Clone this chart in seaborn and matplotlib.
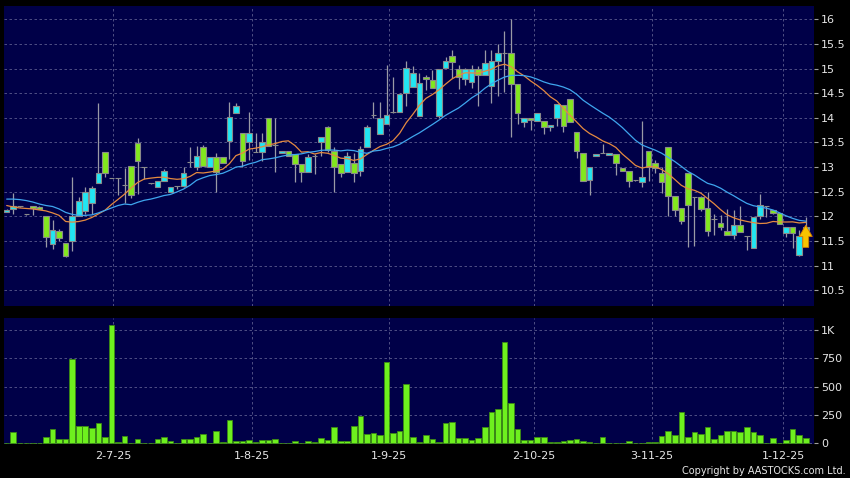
#!/usr/bin/env python3
import matplotlib
matplotlib.use("Agg")
import matplotlib.pyplot as plt
import numpy as np
import pandas as pd
import seaborn as sns

# Daily candles (one entry per trading day).
opens = [12.09, 12.14, 12.20, 12.04, 12.20, 12.19, 12.00, 11.43, 11.71, 11.45,
         11.50, 12.01, 12.10, 12.27, 12.68, 13.30, 12.77, 12.77, 12.64, 13.02,
         13.48, 13.01, 12.68, 12.59, 12.72, 12.50, 12.62, 12.62, 13.11, 13.00,
         13.41, 13.01, 13.20, 13.20, 13.53, 14.09, 13.70, 13.50, 13.30, 13.30,
         14.00, 13.45, 13.28, 13.33, 13.27, 13.07, 12.90, 13.23, 13.50, 13.81,
         13.33, 13.06, 12.91, 13.09, 12.93, 13.40, 14.05, 13.68, 13.88, 14.11,
         14.11, 14.50, 14.63, 14.04, 14.83, 14.76, 14.04, 15.02, 15.26, 15.00,
         14.78, 14.72, 15.00, 14.87, 14.65, 15.16, 15.31, 15.31, 14.68, 13.92,
         13.99, 13.93, 13.93, 13.82, 14.00, 14.26, 14.39, 13.72, 13.28, 12.74,
         13.23, 13.28, 13.25, 13.26, 12.99, 12.92, 12.74, 12.70, 13.32, 13.09,
         12.88, 13.40, 12.42, 12.17, 12.89, 12.40, 12.39, 12.17, 11.95, 11.87,
         11.71, 11.63, 11.83, 11.60, 11.36, 12.00, 12.20, 12.13, 12.06, 11.66,
         11.78, 11.22, 11.72]
highs = [12.15, 12.47, 12.22, 12.05, 12.22, 12.20, 12.00, 11.93, 11.74, 11.45,
         12.80, 12.40, 12.60, 12.62, 14.30, 13.30, 12.77, 12.77, 12.98, 13.02,
         13.59, 13.01, 12.68, 12.72, 12.97, 12.60, 12.62, 13.01, 13.40, 13.42,
         13.45, 13.20, 13.28, 13.20, 14.33, 14.30, 13.70, 14.12, 13.70, 13.70,
         14.00, 14.00, 13.33, 13.33, 13.27, 13.07, 13.26, 13.27, 13.61, 13.83,
         13.40, 13.06, 13.30, 13.28, 13.43, 13.85, 14.33, 14.33, 15.08, 14.83,
         14.50, 15.15, 15.05, 14.90, 14.87, 14.98, 14.99, 15.23, 15.37, 15.07,
         15.02, 15.07, 15.05, 15.37, 15.37, 15.50, 15.76, 16.00, 14.68, 14.00,
         13.99, 14.09, 13.93, 13.86, 14.28, 14.26, 14.39, 13.72, 13.28, 13.00,
         13.26, 13.47, 13.28, 13.26, 12.99, 12.92, 12.74, 13.94, 13.32, 13.15,
         13.00, 13.40, 12.42, 12.17, 12.89, 12.40, 12.42, 12.49, 12.05, 12.02,
         12.15, 12.12, 12.22, 11.60, 11.98, 12.45, 12.20, 12.13, 12.06, 11.78,
         11.78, 11.72, 11.98]
lows = [12.08, 12.05, 12.18, 12.03, 12.02, 12.14, 11.38, 11.33, 11.50, 11.18,
        11.30, 12.00, 12.05, 12.05, 12.68, 12.80, 12.77, 12.43, 12.27, 12.38,
        12.45, 12.76, 12.66, 12.59, 12.72, 12.50, 12.55, 12.60, 13.00, 12.95,
        13.03, 13.01, 12.50, 13.09, 13.17, 14.09, 13.00, 13.15, 13.30, 13.13,
        13.43, 12.91, 13.28, 13.23, 12.70, 12.70, 12.90, 12.86, 13.23, 13.30,
        12.50, 12.80, 12.91, 12.70, 12.82, 13.40, 14.00, 13.68, 13.87, 14.09,
        14.11, 14.25, 14.63, 14.04, 14.56, 14.60, 14.00, 15.02, 14.80, 14.58,
        14.66, 14.60, 14.24, 14.87, 14.30, 14.45, 14.52, 13.62, 13.88, 13.82,
        13.75, 13.93, 13.68, 13.74, 13.84, 13.72, 13.92, 13.18, 12.72, 12.43,
        13.23, 13.28, 13.25, 12.84, 12.93, 12.59, 12.72, 12.60, 12.72, 12.88,
        12.48, 12.01, 12.01, 11.85, 11.38, 11.40, 12.10, 11.61, 11.62, 11.72,
        11.63, 11.55, 11.68, 11.31, 11.36, 11.95, 11.98, 12.05, 11.85, 11.58,
        11.36, 11.20, 11.72]
closes = [12.13, 12.20, 12.20, 12.04, 12.16, 12.15, 11.59, 11.73, 11.57, 11.19,
          12.00, 12.32, 12.49, 12.57, 12.88, 12.88, 12.77, 12.77, 12.64, 12.44,
          13.12, 13.01, 12.68, 12.72, 12.92, 12.60, 12.62, 12.89, 13.11, 13.22,
          13.03, 13.20, 12.91, 13.09, 14.01, 14.25, 13.13, 13.70, 13.30, 13.50,
          13.43, 13.45, 13.33, 13.23, 13.07, 12.90, 13.21, 13.23, 13.61, 13.35,
          13.00, 12.88, 13.23, 12.88, 13.36, 13.81, 14.05, 14.00, 14.06, 14.11,
          14.49, 15.02, 14.92, 14.70, 14.78, 14.60, 14.99, 15.16, 15.14, 14.83,
          15.00, 14.99, 14.87, 15.11, 15.16, 15.31, 15.31, 14.68, 14.09, 14.00,
          13.96, 14.09, 13.82, 13.86, 14.28, 13.84, 13.92, 13.33, 12.72, 13.00,
          13.26, 13.28, 13.28, 13.09, 12.93, 12.71, 12.74, 12.79, 13.01, 12.99,
          12.69, 12.42, 12.12, 11.90, 12.23, 12.40, 12.15, 11.71, 11.95, 11.79,
          11.63, 11.83, 11.68, 11.60, 11.98, 12.23, 12.20, 12.07, 11.85, 11.78,
          11.66, 11.61, 11.79]
volumes = [0, 103, 0, 0, 3, 0, 56, 124, 38, 38,
           745, 154, 154, 139, 178, 59, 1047, 9, 68, 0,
           36, 3, 6, 38, 56, 21, 3, 36, 38, 56,
           80, 0, 109, 15, 204, 24, 18, 27, 9, 30,
           30, 41, 6, 0, 18, 3, 21, 9, 50, 30,
           145, 18, 18, 154, 245, 80, 89, 74, 716, 95,
           109, 524, 53, 15, 77, 35, 9, 180, 186, 47,
           47, 30, 44, 148, 281, 302, 899, 355, 127, 30,
           30, 56, 56, 15, 15, 18, 30, 35, 21, 15,
           0, 53, 0, 6, 0, 18, 0, 6, 9, 9,
           65, 106, 77, 274, 53, 100, 80, 142, 38, 74,
           106, 106, 100, 142, 100, 74, 6, 47, 6, 30,
           124, 71, 44]

# Moving average values at the left edge (history before the window).
ma10_head = [12.22, 12.19, 12.17, 12.16, 12.15, 12.13, 12.11, 12.07, 12.02]
ma20_head = [12.35, 12.35, 12.34, 12.32, 12.29, 12.25, 12.22, 12.20, 12.15,
             12.08, 12.04, 12.02, 12.02, 12.03, 12.07, 12.12, 12.17, 12.22, 12.25]

date_labels = ["2-7-25", "1-8-25", "1-9-25", "2-10-25", "3-11-25", "1-12-25"]
date_pos = [16.3, 37.4, 58.4, 80.5, 98.5, 118.6]
price_ticks = [10.5, 11, 11.5, 12, 12.5, 13, 13.5, 14, 14.5, 15, 15.5, 16]
vol_ticks = [0, 250, 500, 750, 1000]
vol_labels = ["0", "250", "500", "750", "1K"]

BG = "#000048"
UP = "#22E6F2"
DOWN = "#82E81E"
GRID = "#5C5C8E"
TXT = "#E6E6E6"

sns.set_style("dark", {
    "axes.facecolor": BG,
    "figure.facecolor": "black",
    "axes.edgecolor": BG,
    "grid.color": GRID,
})
plt.rcParams["font.family"] = ["DejaVu Sans"]

df = pd.DataFrame({"open": opens, "high": highs, "low": lows,
                   "close": closes, "volume": volumes})
df["idx"] = np.arange(len(df))
ma10 = df["close"].rolling(10).mean()
ma10.iloc[:len(ma10_head)] = ma10_head
ma20 = df["close"].rolling(20).mean()
ma20.iloc[:len(ma20_head)] = ma20_head
df["ma10"] = ma10
df["ma20"] = ma20

fig = plt.figure(figsize=(8.5, 4.78), dpi=100)
ax = fig.add_axes([4 / 850, 1 - 306 / 478, 810 / 850, 300 / 478])
axv = fig.add_axes([4 / 850, 1 - 444 / 478, 810 / 850, 126 / 478])

xlim = (-0.41, 123.26)

# Candles
up = df["close"] >= df["open"]
ax.vlines(df["idx"], df["low"], df["high"], color="#9A9AA6", linewidth=0.9, zorder=2)
body_h = (df["close"] - df["open"]).abs()
body_b = df[["open", "close"]].min(axis=1)
colors = [UP if u else DOWN for u in up]
ax.bar(df["idx"], body_h, bottom=body_b, width=0.85, color=colors,
       edgecolor="#8A8A8A", linewidth=0.8, zorder=3)

# Moving averages
sns.lineplot(data=df, x="idx", y="ma10", color="#E58A40", linewidth=0.9, ax=ax, zorder=4)
sns.lineplot(data=df, x="idx", y="ma20", color="#3FA6EE", linewidth=0.9, ax=ax, zorder=4)

# Last price arrow
lx = df["idx"].iloc[-1]
ly = df["close"].iloc[-1]
ax.fill([lx, lx + 1.0, lx + 0.45, lx + 0.45, lx - 0.45, lx - 0.45, lx - 1.0],
        [ly + 0.03, ly - 0.2, ly - 0.2, ly - 0.42, ly - 0.42, ly - 0.2, ly - 0.2],
        color="#F7C300", edgecolor="#D07A00", linewidth=0.6, zorder=5)

ax.set_xlim(*xlim)
ax.set_ylim(10.18, 16.27)
ax.set_yticks(price_ticks)
ax.set_yticklabels([f"{t:g}" for t in price_ticks])
ax.set_xticks(date_pos)
ax.set_xticklabels([])
ax.yaxis.tick_right()
ax.tick_params(axis="y", colors=TXT, labelsize=8, length=3, pad=2, color="#A0A0A0")
ax.tick_params(axis="x", length=0)
ax.grid(True, linestyle=(0, (3, 3)), linewidth=0.6, color=GRID)
ax.set_xlabel("")
ax.set_ylabel("")
for s in ax.spines.values():
    s.set_visible(False)

# Volume
sns.barplot(data=df, x="idx", y="volume", native_scale=True, width=0.85,
            color="#6EF01E", edgecolor="#3C8A14", linewidth=0.6,
            saturation=1, errorbar=None, ax=axv, zorder=3)
axv.set_xlim(*xlim)
axv.set_ylim(-5, 1107)
axv.set_yticks(vol_ticks)
axv.set_yticklabels(vol_labels)
axv.yaxis.tick_right()
axv.set_xticks(date_pos)
axv.set_xticklabels(date_labels)
axv.tick_params(axis="y", colors=TXT, labelsize=8, length=3, pad=2, color="#A0A0A0")
axv.tick_params(axis="x", colors=TXT, labelsize=8, length=3, pad=2, color="#A0A0A0")
axv.grid(True, linestyle=(0, (3, 3)), linewidth=0.6, color=GRID)
axv.set_axisbelow(True)
axv.set_xlabel("")
axv.set_ylabel("")
for s in axv.spines.values():
    s.set_visible(False)

fig.text(846 / 850, 1 - 471 / 478, "Copyright by AASTOCKS.com Ltd.", color=TXT,
         fontsize=7, ha="right", va="center")

fig.savefig("out.png", dpi=100, facecolor="black")
